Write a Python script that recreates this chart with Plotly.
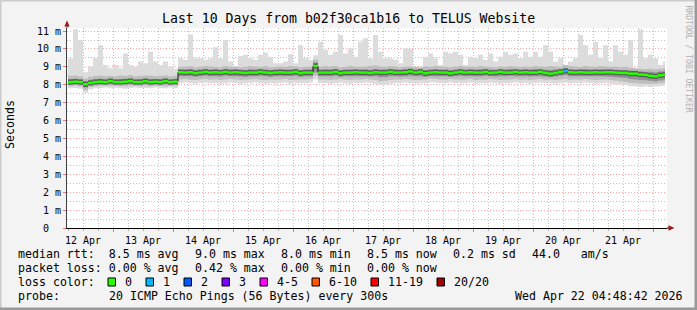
import plotly.graph_objects as go
from datetime import datetime, timedelta

# ---------------- data ----------------
start_time = datetime(2026, 4, 12, 6, 0)      # first 2-hour sample
sample_step = timedelta(hours=2)
end_time = datetime(2026, 4, 22, 4, 48, 42)
range_start = datetime(2026, 4, 12, 5, 36)
range_end = datetime(2026, 4, 22, 5, 36)

# values in milliseconds
rtt_max = [9.48, 11.1, 10.5, 8.7, 9.0, 9.48, 10.2, 9.1, 8.92, 9.1,
           8.92, 9.75, 9.1, 9.0, 9.3, 9.2, 9.85, 9.3, 9.1, 9.3,
           9.0, 8.9, 9.48, 9.4, 10.8, 9.48, 9.48, 9.4, 9.48, 10.1,
           9.48, 10.5, 9.3, 8.92, 9.6, 9.67, 9.48, 9.4, 9.67, 9.8,
           9.57, 9.2, 9.2, 9.3, 9.7, 9.2, 10.2, 9.48, 9.4, 9.65,
           10.4, 9.94, 9.67, 9.85, 10.78, 9.75, 10.04, 9.57, 10.4, 10.6,
           9.48, 10.78, 9.85, 9.48, 9.48, 9.4, 9.2, 10.04, 10.0, 9.0,
           8.92, 9.57, 9.75, 9.48, 9.1, 9.85, 9.75, 9.85, 9.67, 9.1,
           9.57, 9.48, 9.67, 9.4, 9.75, 9.3, 9.57, 9.85, 9.67, 9.75,
           9.48, 9.85, 9.57, 9.85, 9.57, 10.2, 9.85, 9.3, 9.48, 9.1,
           9.3, 9.48, 10.78, 10.2, 9.67, 10.4, 9.48, 10.2, 9.3, 10.2,
           9.85, 9.67, 10.5, 8.92, 11.1, 9.48, 9.67, 9.48, 9.1, 9.3]

rtt_p90 = [8.50, 8.52, 8.48, 8.35, 8.45, 8.50, 8.52, 8.48, 8.50, 8.48, 8.52, 8.50, 8.55, 8.48, 8.50, 8.52, 8.50, 8.48, 8.50, 8.52, 8.48, 8.50,
           9.00, 9.02, 9.05, 8.98, 9.00, 9.05, 9.02, 9.00, 8.98, 9.05,
           9.00, 9.02, 8.98, 9.00, 9.05, 9.02, 9.00, 9.05, 8.98, 9.00,
           9.02, 9.00, 9.05, 9.02, 8.98, 9.00, 9.02, 9.40, 9.00, 9.05,
           9.02, 9.05, 8.98, 9.00, 9.05, 9.02, 9.00, 9.02, 9.05, 9.08,
           9.02, 9.00, 9.05, 9.02, 8.98, 9.00, 9.02, 9.00, 8.98, 9.02,
           9.00, 9.05, 9.02, 9.00, 8.98, 9.02, 9.05, 9.00, 9.02, 9.00,
           9.05, 9.02, 9.00, 8.98, 9.02, 9.00, 9.05, 9.02, 9.00, 9.02,
           9.00, 9.05, 9.02, 9.00, 9.05, 9.02, 9.00, 9.10, 9.05, 9.02,
           9.00, 9.05, 9.02, 9.00, 9.05, 9.02, 9.00, 9.02, 8.98, 9.00,
           8.95, 8.92, 8.90, 8.88, 8.90, 8.86, 8.90, 8.92]

rtt_p75 = [8.32, 8.33, 8.30, 8.20, 8.28, 8.32, 8.33, 8.30, 8.35, 8.30, 8.32, 8.33, 8.35, 8.30, 8.32, 8.35, 8.32, 8.30, 8.32, 8.35, 8.30, 8.32,
           8.85, 8.86, 8.88, 8.82, 8.85, 8.88, 8.85, 8.86, 8.84, 8.88,
           8.85, 8.86, 8.84, 8.82, 8.86, 8.85, 8.88, 8.85, 8.82, 8.85,
           8.86, 8.85, 8.85, 8.88, 8.82, 8.85, 8.86, 9.25, 8.85, 8.86,
           8.85, 8.88, 8.82, 8.85, 8.86, 8.86, 8.85, 8.86, 8.84, 8.88,
           8.85, 8.85, 8.88, 8.86, 8.84, 8.86, 8.90, 8.85, 8.88, 8.82,
           8.85, 8.86, 8.85, 8.85, 8.82, 8.85, 8.88, 8.85, 8.86, 8.85,
           8.86, 8.88, 8.85, 8.84, 8.86, 8.85, 8.88, 8.86, 8.85, 8.86,
           8.85, 8.88, 8.85, 8.84, 8.82, 8.85, 8.88, 8.94, 8.86, 8.85,
           8.86, 8.88, 8.85, 8.85, 8.86, 8.85, 8.86, 8.84, 8.82, 8.82,
           8.80, 8.78, 8.75, 8.72, 8.72, 8.70, 8.74, 8.76]

rtt_median = [8.15, 8.17, 8.15, 8.03, 8.10, 8.15, 8.17, 8.15, 8.20, 8.15, 8.15, 8.17, 8.20, 8.15, 8.15, 8.20, 8.15, 8.17, 8.15, 8.20, 8.15, 8.17,
              8.70, 8.68, 8.70, 8.65, 8.68, 8.72, 8.68, 8.70, 8.68, 8.72,
              8.68, 8.70, 8.68, 8.66, 8.68, 8.68, 8.72, 8.68, 8.66, 8.68,
              8.70, 8.68, 8.68, 8.72, 8.65, 8.68, 8.68, 9.05, 8.68, 8.68,
              8.68, 8.72, 8.65, 8.68, 8.68, 8.70, 8.68, 8.68, 8.66, 8.70,
              8.68, 8.68, 8.72, 8.68, 8.68, 8.70, 8.74, 8.68, 8.72, 8.64,
              8.68, 8.70, 8.68, 8.68, 8.64, 8.68, 8.72, 8.68, 8.70, 8.68,
              8.68, 8.72, 8.66, 8.68, 8.72, 8.68, 8.68, 8.72, 8.68, 8.70,
              8.68, 8.68, 8.72, 8.66, 8.62, 8.66, 8.72, 8.77, 8.70, 8.68,
              8.70, 8.68, 8.68, 8.70, 8.68, 8.70, 8.70, 8.68, 8.66, 8.66,
              8.62, 8.62, 8.57, 8.55, 8.50, 8.47, 8.53, 8.56]

rtt_p25 = [8.03, 8.05, 8.02, 7.85, 7.98, 8.03, 8.05, 8.04, 8.06, 8.03, 8.04, 8.05, 8.06, 8.03, 8.04, 8.06, 8.03, 8.04, 8.03, 8.06, 8.03, 8.05,
           8.48, 8.47, 8.48, 8.45, 8.47, 8.50, 8.47, 8.48, 8.46, 8.50,
           8.47, 8.48, 8.46, 8.45, 8.47, 8.48, 8.50, 8.47, 8.45, 8.47,
           8.48, 8.47, 8.47, 8.50, 8.45, 8.47, 8.47, 8.70, 8.47, 8.48,
           8.47, 8.50, 8.45, 8.47, 8.47, 8.48, 8.47, 8.48, 8.46, 8.48,
           8.42, 8.44, 8.48, 8.47, 8.46, 8.48, 8.50, 8.47, 8.48, 8.45,
           8.47, 8.48, 8.47, 8.48, 8.45, 8.47, 8.50, 8.47, 8.48, 8.47,
           8.47, 8.50, 8.47, 8.46, 8.48, 8.47, 8.50, 8.48, 8.47, 8.48,
           8.46, 8.47, 8.47, 8.45, 8.42, 8.46, 8.50, 8.55, 8.48, 8.47,
           8.47, 8.48, 8.47, 8.47, 8.48, 8.46, 8.45, 8.42, 8.40, 8.38,
           8.32, 8.30, 8.26, 8.25, 8.22, 8.20, 8.24, 8.28]

rtt_p10 = [7.92, 7.94, 7.90, 7.70, 7.88, 7.92, 7.94, 7.95, 7.93, 7.94, 7.92, 7.92, 7.95, 7.95, 7.92, 7.94, 7.92, 7.95, 7.93, 7.92, 7.95, 7.94,
           8.30, 8.32, 8.28, 8.26, 8.30, 8.32, 8.28, 8.30, 8.26, 8.30,
           8.32, 8.30, 8.26, 8.28, 8.30, 8.32, 8.28, 8.26, 8.30, 8.28,
           8.30, 8.32, 8.26, 8.28, 8.30, 8.28, 8.32, 8.50, 8.30, 8.28,
           8.26, 8.30, 8.32, 8.28, 8.26, 8.30, 8.28, 8.32, 8.30, 8.26,
           8.20, 8.22, 8.26, 8.30, 8.28, 8.32, 8.30, 8.26, 8.28, 8.30,
           8.34, 8.32, 8.30, 8.28, 8.32, 8.30, 8.28, 8.30, 8.32, 8.26,
           8.30, 8.28, 8.32, 8.30, 8.26, 8.28, 8.30, 8.32, 8.28, 8.30,
           8.26, 8.30, 8.32, 8.28, 8.30, 8.26, 8.30, 8.32, 8.28, 8.30,
           8.28, 8.32, 8.30, 8.26, 8.28, 8.30, 8.26, 8.22, 8.18, 8.15,
           8.10, 8.08, 8.05, 8.06, 8.04, 8.05, 8.08, 8.10]

rtt_min = [7.80, 7.82, 7.78, 7.55, 7.75, 7.80, 7.82, 7.85, 7.80, 7.82, 7.80, 7.78, 7.82, 7.85, 7.80, 7.82, 7.80, 7.85, 7.82, 7.80, 7.85, 7.82,
           8.10, 8.12, 8.08, 8.05, 8.10, 8.12, 8.08, 8.10, 8.05, 8.08,
           8.12, 8.10, 8.05, 8.08, 8.10, 8.12, 8.08, 8.05, 8.10, 8.08,
           8.10, 8.12, 8.05, 8.08, 8.10, 8.08, 8.12, 8.30, 8.10, 8.08,
           8.05, 8.10, 8.12, 8.08, 8.05, 8.10, 8.08, 8.12, 8.10, 8.05,
           7.98, 8.00, 8.05, 8.10, 8.08, 8.12, 8.10, 8.05, 8.08, 8.10,
           8.15, 8.12, 8.10, 8.08, 8.12, 8.10, 8.08, 8.10, 8.12, 8.05,
           8.10, 8.08, 8.12, 8.10, 8.05, 8.08, 8.10, 8.12, 8.08, 8.10,
           8.05, 8.10, 8.12, 8.08, 8.10, 8.05, 8.10, 8.12, 8.08, 8.10,
           8.08, 8.12, 8.10, 8.05, 8.08, 8.10, 8.05, 8.02, 8.00, 7.98,
           7.92, 7.90, 7.88, 7.90, 7.88, 7.90, 7.92, 7.95]

# lost pings per sample (out of 20)
loss = [0] * 99 + [1] + [0] * 20

loss_levels = ["0", "1", "2", "3", "4-5", "6-10", "11-19", "20/20"]
loss_colors = ["#26ff00", "#00b8ff", "#0059ff", "#7e00ff", "#ff00ff", "#ff5500", "#ff0000", "#a10000"]

y_tick_vals = [0, 1, 2, 3, 4, 5, 6, 7, 8, 9, 10, 11]
y_tick_text = ["0\u00a0\u00a0", "1 m", "2 m", "3 m", "4 m", "5 m", "6 m", "7 m", "8 m", "9 m", "10 m", "11 m"]

title_text = "Last 10 Days from b02f30ca1b16 to TELUS Website"
legend_rows = [
    [(16, "median rtt:  8.5 ms avg"), (193, "9.0 ms max"), (279, "8.0 ms min"),
     (365, "8.5 ms now"), (451, "0.2 ms sd"), (530, "44.0   am/s")],
    [(16, "packet loss: 0.00 % avg"), (193, "0.42 % max"), (279, "0.00 % min"), (365, "0.00 % now")],
]
loss_label = "loss color:"
probe_label = "probe:"
probe_text = "20 ICMP Echo Pings (56 Bytes) every 300s"
stamp_text = "Wed Apr 22 04:48:42 2026"

# ---------------- figure ----------------
W, H = 697, 310
L, T, PW, PH = 67, 28, 600, 200
MONO = "DejaVu Sans Mono"


def px(x):
    return (x - L) / PW


def py(y):
    return (T + PH - y) / PH


times = [start_time + i * sample_step for i in range(len(rtt_median))]
edges = times + [end_time]


def ext(v):
    return list(v) + [v[-1]]


fig = go.Figure()


def band(lo, hi, color):
    fig.add_trace(go.Scatter(x=edges, y=ext(lo), mode="lines",
                             line=dict(width=0, shape="hv"), hoverinfo="skip", showlegend=False))
    fig.add_trace(go.Scatter(x=edges, y=ext(hi), mode="lines",
                             line=dict(width=0, shape="hv"), fill="tonexty", fillcolor=color,
                             hoverinfo="skip", showlegend=False))


band(rtt_min, rtt_max, "#dcdcdc")
band(rtt_p10, rtt_p90, "#bebebe")
band(rtt_p25, rtt_p75, "#929292")


def segments(mask):
    xs, ys = [], []
    for i, v in enumerate(rtt_median):
        if mask(i):
            xs += [edges[i], edges[i + 1], None]
            ys += [v, v, None]
    return xs, ys


sx, sy = segments(lambda i: True)
fig.add_trace(go.Scatter(x=sx, y=sy, mode="lines", line=dict(width=5, color="#5a5a5a"),
                         hoverinfo="skip", showlegend=False, connectgaps=False))
fig.add_trace(go.Scatter(x=edges, y=ext(rtt_median), mode="lines",
                         line=dict(width=1, color="#111111", shape="hv"),
                         hoverinfo="skip", showlegend=False))
for lvl, col in enumerate(loss_colors[:2]):
    sx, sy = segments(lambda i, l=lvl: loss[i] == l)
    fig.add_trace(go.Scatter(x=sx, y=sy, mode="lines", line=dict(width=2.5, color=col),
                             hoverinfo="skip", showlegend=False, connectgaps=False))

grid_major = "rgba(255,0,0,0.36)"
grid_minor = "rgba(120,120,120,0.45)"

fig.update_layout(
    width=W, height=H,
    margin=dict(l=L, r=W - L - PW, t=T, b=H - T - PH, pad=0),
    paper_bgcolor="#f3f3f3", plot_bgcolor="#ffffff",
    showlegend=False,
    font=dict(family=MONO, size=10, color="#000"),
    xaxis=dict(
        type="date", range=[range_start, range_end],
        tick0="2026-04-12", dtick=86400000, tickformat="%d %b", ticklabelmode="period",
        showgrid=True, gridcolor=grid_major, griddash="1px,2px", gridwidth=1,
        ticks="outside", ticklen=3, tickcolor="rgba(255,0,0,0.55)",
        showline=True, linecolor="#000", linewidth=1, zeroline=False,
        tickfont=dict(family=MONO, size=10, color="#000"),
        minor=dict(tickmode="linear", tick0="2026-04-12", dtick=21600000, showgrid=True,
                   gridcolor=grid_minor, griddash="1px,2px", ticks="outside", ticklen=2,
                   tickcolor="#b0b0b0"),
        fixedrange=True,
    ),
    yaxis=dict(
        range=[0, 11.17], tickmode="array", tickvals=y_tick_vals, ticktext=y_tick_text,
        showgrid=True, gridcolor=grid_major, griddash="1px,2px", gridwidth=1,
        ticks="outside", ticklen=3, tickcolor="rgba(255,0,0,0.55)",
        showline=True, linecolor="#404040", linewidth=1, zeroline=False,
        tickfont=dict(family=MONO, size=10, color="#000"),
        minor=dict(tickmode="array", tickvals=[v + 0.5 for v in y_tick_vals[:-1]], showgrid=True,
                   gridcolor=grid_minor, griddash="1px,2px", ticks=""),
        fixedrange=True,
    ),
)

shapes = []
# 3D frame of the canvas
shapes.append(dict(type="rect", xref="paper", yref="paper", x0=px(0), x1=px(W), y0=py(0), y1=py(1.5),
                   fillcolor="#cbcbcb", line=dict(width=0), layer="above"))
shapes.append(dict(type="rect", xref="paper", yref="paper", x0=px(0), x1=px(1.5), y0=py(0), y1=py(H),
                   fillcolor="#cbcbcb", line=dict(width=0), layer="above"))
shapes.append(dict(type="rect", xref="paper", yref="paper", x0=px(0), x1=px(W), y0=py(H - 2.5), y1=py(H),
                   fillcolor="#999999", line=dict(width=0), layer="above"))
shapes.append(dict(type="rect", xref="paper", yref="paper", x0=px(W - 2.5), x1=px(W), y0=py(0), y1=py(H),
                   fillcolor="#999999", line=dict(width=0), layer="above"))
# axis extensions and arrows
shapes.append(dict(type="line", xref="paper", yref="paper", x0=px(67), x1=px(67), y0=py(28), y1=py(25),
                   line=dict(color="#404040", width=1)))
shapes.append(dict(type="line", xref="paper", yref="paper", x0=px(667), x1=px(670), y0=py(228), y1=py(228),
                   line=dict(color="#000", width=1)))
shapes.append(dict(type="path", xref="paper", yref="paper",
                   path=f"M {px(67)} {py(20.5)} L {px(64.3)} {py(26.5)} L {px(69.7)} {py(26.5)} Z",
                   fillcolor="#a01818", line=dict(width=0), layer="above"))
shapes.append(dict(type="path", xref="paper", yref="paper",
                   path=f"M {px(674.5)} {py(228)} L {px(668.5)} {py(225.3)} L {px(668.5)} {py(230.7)} Z",
                   fillcolor="#a01818", line=dict(width=0), layer="above"))

annotations = []


def text(x, y, s, size=11.6, anchor="left", color="#000", angle=0):
    annotations.append(dict(x=px(x), y=py(y), xref="paper", yref="paper", text=s, showarrow=False,
                            xanchor=anchor, yanchor="middle", textangle=angle,
                            font=dict(family=MONO, size=size, color=color)))


text(348, 18.5, title_text, size=13.2, anchor="center")
text(10, 125, "Seconds", size=11.6, anchor="center", angle=-90)
text(688.5, 59, "RRDTOOL / TOBI OETIKER", size=8.1, anchor="center", color="#b0b0b0", angle=90)

row_y = [254, 268, 282, 296]
for r, items in enumerate(legend_rows):
    for x, s in items:
        text(x, row_y[r], s)

text(16, row_y[2], loss_label)
box_x = 108
for lab, col in zip(loss_levels, loss_colors):
    shapes.append(dict(type="rect", xref="paper", yref="paper", x0=px(box_x), x1=px(box_x + 7.5),
                       y0=py(278), y1=py(286), fillcolor=col, line=dict(color="#000", width=1),
                       layer="above"))
    text(box_x + 15, row_y[2], lab)
    box_x += 15 + 7 * len(lab) + 16

text(16, row_y[3], probe_label)
text(107, row_y[3], probe_text)
text(513, row_y[3], stamp_text)

fig.update_layout(shapes=shapes, annotations=annotations)

fig.write_html("out.html", config={"displayModeBar": False, "staticPlot": True})
